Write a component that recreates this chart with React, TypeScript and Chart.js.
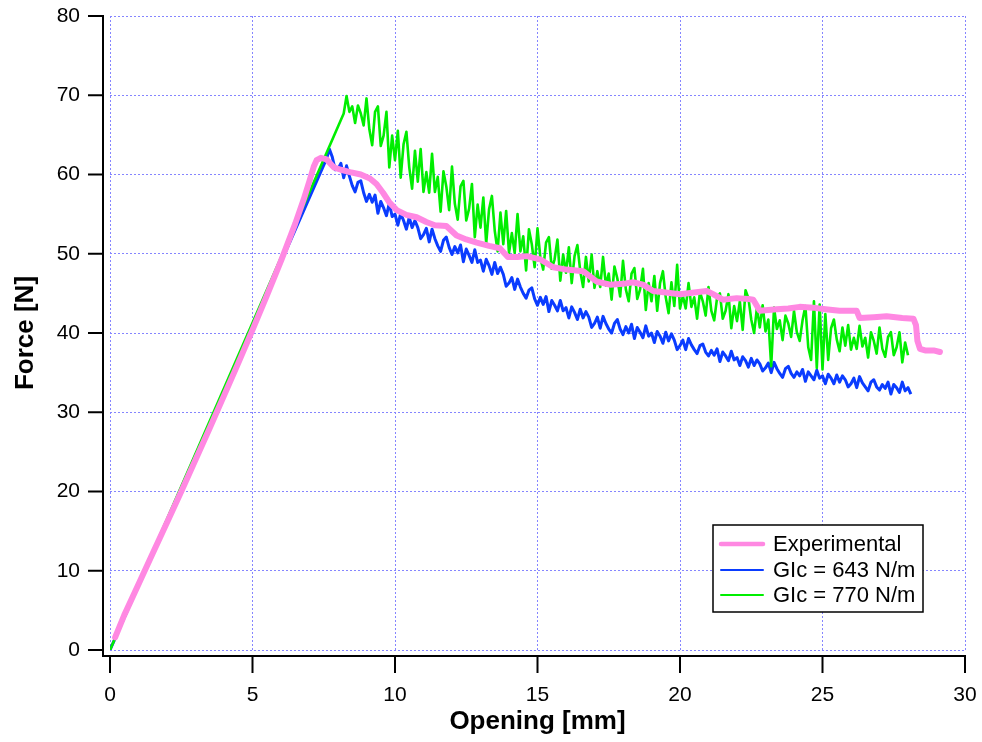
import React, { useEffect, useRef } from "react";
import { Chart, registerables } from "chart.js";

Chart.register(...registerables);

// ---------- data ----------
const xTicks = [0, 5, 10, 15, 20, 25, 30];
const yTicks = [0, 10, 20, 30, 40, 50, 60, 70, 80];

const seriesLabels = ["Experimental", "GIc = 643 N/m", "GIc = 770 N/m"];

// Experimental (smooth) curve
const expX = [0.18, 0.5, 1, 1.5, 2, 2.5, 3, 3.5, 4, 4.5, 5, 5.5, 6, 6.5, 6.8, 7.0, 7.15, 7.25, 7.4, 7.6, 7.85, 8.1, 8.42, 8.8, 9.12, 9.35, 9.58, 9.8, 10.06, 10.4, 10.76, 11.1, 11.4, 11.8, 12.16, 12.5, 12.87, 13.3, 13.68, 13.96, 14.3, 14.62, 15.09, 15.55, 16.02, 16.6, 17.07, 17.54, 18.0, 18.35, 18.7, 19.06, 19.5, 20.0, 20.5, 20.94, 21.16, 21.5, 21.99, 22.4, 22.57, 22.8, 23.39, 23.8, 24.2, 24.67, 25.1, 25.6, 26.2, 26.3, 26.8, 27.25, 27.8, 28.19, 28.28, 28.33, 28.42, 28.6, 28.9, 29.12];
const expY = [1.6, 4.4, 8.3, 12.2, 16.1, 20.0, 24.0, 28.0, 32.1, 36.2, 40.4, 44.7, 49.1, 53.8, 56.9, 59.2, 61.0, 61.8, 62.1, 61.9, 60.9, 60.6, 60.3, 60.0, 59.5, 58.8, 57.7, 56.5, 55.5, 54.9, 54.6, 54.0, 53.6, 53.5, 52.3, 51.8, 51.4, 51.0, 50.7, 49.6, 49.6, 49.7, 49.3, 48.3, 48.0, 47.8, 46.5, 46.1, 46.2, 46.4, 46.1, 45.3, 45.1, 44.9, 45.1, 45.3, 44.9, 44.2, 44.4, 44.3, 44.2, 42.8, 43.0, 43.1, 43.3, 43.2, 43.0, 42.8, 42.8, 41.9, 42.0, 42.1, 41.9, 41.8, 41.0, 39.0, 38.0, 37.8, 37.8, 37.6];

// Simulation GIc = 643 N/m : linear loading, then sampled every 0.1 mm from 7.7 mm
const blueRiseX = [0, 7.6];
const blueRiseY = [0, 62.0];
const blueStart = 7.7;
const blueStep = 0.1;
const blueY = [
  63.2, 62.2, 60.6, 60.7, 61.4, 59.6, 61.1, 59.8, 58.6, 57.8,
  59.0, 59.2, 57.7, 56.6, 57.5, 56.5, 57.4, 55.1, 56.6, 55.8,
  54.8, 56.4, 54.7, 55.0, 53.6, 55.1, 54.2, 53.1, 54.6, 53.3,
  54.2, 53.3, 51.9, 52.4, 53.2, 51.5, 53.1, 51.9, 51.0, 50.3,
  51.7, 52.1, 50.8, 49.9, 50.9, 50.1, 51.1, 49.0, 50.6, 49.8,
  48.9, 50.5, 48.9, 49.2, 47.8, 49.3, 48.5, 47.4, 48.9, 47.5,
  48.3, 47.4, 45.9, 46.3, 47.0, 45.5, 46.8, 45.8, 45.0, 44.4,
  45.4, 45.7, 44.3, 43.5, 44.5, 43.6, 44.6, 42.7, 44.1, 43.5,
  42.8, 44.1, 42.8, 43.2, 41.9, 43.3, 42.6, 41.7, 43.0, 41.9,
  42.7, 42.0, 40.7, 41.2, 42.0, 40.6, 42.1, 41.2, 40.5, 40.0,
  41.2, 41.7, 40.5, 39.8, 40.8, 40.0, 41.1, 39.3, 40.7, 40.1,
  39.4, 40.9, 39.6, 40.0, 38.8, 40.2, 39.6, 38.7, 40.1, 39.0,
  39.9, 39.1, 37.9, 38.4, 39.1, 37.9, 39.3, 38.5, 37.9, 37.4,
  38.4, 38.6, 37.6, 37.1, 37.8, 37.2, 38.0, 36.4, 37.6, 37.1,
  36.5, 37.7, 36.6, 36.9, 35.9, 37.0, 36.5, 35.7, 36.8, 35.9,
  36.6, 36.1, 35.2, 35.6, 36.2, 35.0, 36.3, 35.5, 34.9, 34.4,
  35.5, 35.8, 34.9, 34.4, 35.1, 34.6, 35.4, 33.9, 35.1, 34.6,
  34.1, 35.3, 34.3, 34.6, 33.6, 34.8, 34.3, 33.6, 34.7, 33.8,
  34.6, 34.1, 33.2, 33.6, 34.3, 33.1, 34.5, 33.7, 33.2, 32.7,
  33.8, 34.1, 33.2, 32.8, 33.5, 33.0, 33.8, 32.3, 33.5, 33.1,
  32.5, 33.8, 32.7, 33.1, 32.3,
];

// Simulation GIc = 770 N/m : linear loading, then sampled every 0.1 mm from 8.3 mm
const greenRiseX = [0, 8.2];
const greenRiseY = [0, 67.7];
const greenStart = 8.3;
const greenStep = 0.1;
const greenY = [
  69.9, 67.9, 68.6, 66.5, 68.7, 67.7, 66.2, 69.6, 65.7, 63.7,
  67.9, 68.6, 63.6, 64.9, 67.9, 60.9, 64.9, 61.8, 65.5, 59.6,
  63.8, 65.4, 60.9, 58.2, 63.0, 59.1, 63.2, 57.8, 60.3, 57.7,
  62.6, 57.8, 59.7, 55.3, 60.4, 58.5, 55.5, 61.0, 56.3, 54.3,
  58.5, 59.2, 54.2, 55.7, 58.8, 52.1, 56.2, 53.3, 57.1, 51.3,
  55.6, 57.3, 52.9, 50.3, 55.2, 51.2, 55.4, 50.1, 52.6, 50.1,
  55.0, 50.3, 52.2, 47.9, 53.1, 51.2, 48.3, 53.2, 49.5, 48.0,
  51.4, 52.1, 48.1, 49.3, 51.8, 46.6, 49.9, 47.6, 50.8, 46.3,
  49.7, 51.1, 47.8, 45.8, 49.6, 46.5, 49.9, 45.7, 47.8, 45.8,
  49.6, 46.0, 47.5, 44.2, 48.4, 46.9, 44.6, 49.1, 45.5, 44.0,
  47.5, 48.2, 44.3, 45.5, 48.1, 42.9, 46.3, 44.0, 47.2, 42.8,
  46.3, 47.8, 44.5, 42.5, 46.4, 43.4, 48.6, 43.1, 44.7, 43.1,
  46.3, 43.3, 44.5, 41.8, 45.2, 44.0, 42.2, 45.8, 42.8, 41.6,
  44.4, 45.0, 41.8, 42.8, 44.9, 40.6, 43.4, 41.5, 44.0, 40.4,
  45.4, 44.4, 41.7, 40.0, 43.2, 40.7, 43.5, 40.2, 41.7, 35.8,
  43.2, 40.5, 41.6, 39.1, 42.2, 41.2, 39.5, 42.8, 40.1, 39.0,
  41.6, 43.4, 38.2, 36.6, 44.0, 35.6, 43.6, 35.4, 42.4, 36.6,
  40.6, 41.7, 39.2, 37.7, 40.7, 38.4, 41.0, 37.9, 39.4, 38.0,
  40.9, 38.3, 39.4, 36.9, 40.1, 39.0, 37.4, 40.7, 38.0, 37.0,
  39.5, 40.1, 37.2, 38.2, 40.1, 36.3, 38.8, 37.2,
];

const colors = {
  exp: "#ff88e2",
  blue: "#0a3cff",
  green: "#00ee00",
  grid: "#8585ff",
};

function sampled(start: number, step: number, ys: number[]) {
  return ys.map((y, i) => ({ x: Math.round((start + i * step) * 100) / 100, y }));
}
function pairs(xs: number[], ys: number[]) {
  return xs.map((x, i) => ({ x, y: ys[i] }));
}

const FONT = "'Liberation Sans', Arial, Helvetica, sans-serif";

const axesPlugin = {
  id: "igorAxes",
  afterDraw(chart: any) {
    const ctx = chart.ctx;
    const xs = chart.scales.x;
    const ys = chart.scales.y;
    const ca = chart.chartArea;
    const axisX = ca.left - 7;
    const axisY = ca.bottom + 6;
    ctx.save();
    ctx.strokeStyle = "#000";
    ctx.lineWidth = 2;
    ctx.lineCap = "butt";
    // y axis line
    ctx.beginPath();
    ctx.moveTo(axisX, ys.getPixelForValue(80) - 1);
    ctx.lineTo(axisX, axisY + 1);
    ctx.stroke();
    // x axis line
    ctx.beginPath();
    ctx.moveTo(axisX - 1, axisY);
    ctx.lineTo(xs.getPixelForValue(30) + 1, axisY);
    ctx.stroke();
    // y ticks
    yTicks.forEach((v) => {
      const p = ys.getPixelForValue(v);
      ctx.beginPath();
      ctx.moveTo(axisX - 15, p);
      ctx.lineTo(axisX, p);
      ctx.stroke();
    });
    // x ticks
    xTicks.forEach((v) => {
      const p = xs.getPixelForValue(v);
      ctx.beginPath();
      ctx.moveTo(p, axisY);
      ctx.lineTo(p, axisY + 17);
      ctx.stroke();
    });

    // legend
    const bx = 713, by = 525, bw = 210, bh = 87;
    ctx.fillStyle = "#fff";
    ctx.fillRect(bx, by, bw, bh);
    ctx.lineWidth = 1.5;
    ctx.strokeRect(bx, by, bw, bh);
    const entries = [
      { label: seriesLabels[0], color: colors.exp, w: 4.5, y: 544 },
      { label: seriesLabels[1], color: colors.blue, w: 2, y: 570 },
      { label: seriesLabels[2], color: colors.green, w: 2, y: 595 },
    ];
    ctx.font = `22px ${FONT}`;
    ctx.textBaseline = "middle";
    ctx.textAlign = "left";
    entries.forEach((e) => {
      ctx.strokeStyle = e.color;
      ctx.lineWidth = e.w;
      ctx.lineCap = "round";
      ctx.beginPath();
      ctx.moveTo(721, e.y);
      ctx.lineTo(763, e.y);
      ctx.stroke();
      ctx.fillStyle = "#000";
      ctx.fillText(e.label, 773, e.y + 1);
    });
    ctx.restore();
  },
};

export default function App() {
  const ref = useRef<HTMLCanvasElement | null>(null);
  useEffect(() => {
    if (!ref.current) return;
    const chart = new Chart(ref.current, {
      type: "line",
      data: {
        datasets: [
          {
            label: seriesLabels[0],
            data: pairs(expX, expY),
            borderColor: colors.exp,
            borderWidth: 6,
            pointRadius: 0,
            borderJoinStyle: "round",
            borderCapStyle: "round",
            order: 0,
          },
          {
            label: seriesLabels[2],
            data: [...pairs(greenRiseX, greenRiseY), ...sampled(greenStart, greenStep, greenY)],
            borderColor: colors.green,
            borderWidth: 2.6,
            pointRadius: 0,
            borderJoinStyle: "round",
            order: 1,
          },
          {
            label: seriesLabels[1],
            data: [...pairs(blueRiseX, blueRiseY), ...sampled(blueStart, blueStep, blueY)],
            borderColor: colors.blue,
            borderWidth: 3,
            pointRadius: 0,
            borderJoinStyle: "round",
            order: 2,
          },
        ],
      },
      options: {
        animation: false,
        responsive: false,
        layout: { padding: { left: 0, right: 17, top: 16, bottom: 0 } },
        plugins: {
          legend: { display: false },
          tooltip: { enabled: false },
        },
        scales: {
          x: {
            type: "linear",
            min: 0,
            max: 30,
            afterFit: (s: any) => {
              s.height = 92;
              s.paddingLeft = 0;
              s.paddingRight = 0;
            },
            afterBuildTicks: (s: any) => {
              s.ticks = xTicks.map((v) => ({ value: v }));
            },
            ticks: {
              color: "#000",
              font: { family: FONT, size: 21 },
              padding: 33,
              maxRotation: 0,
            },
            grid: { color: colors.grid, lineWidth: 1, drawTicks: false },
            border: { display: false, dash: [2, 2] },
            title: {
              display: true,
              text: "Opening [mm]",
              color: "#000",
              font: { family: FONT, size: 26, weight: "bold" },
              padding: { top: 0, bottom: 5 },
            },
          },
          y: {
            type: "linear",
            min: 0,
            max: 80,
            afterFit: (s: any) => {
              s.width = 110;
              s.paddingTop = 0;
              s.paddingBottom = 0;
            },
            afterBuildTicks: (s: any) => {
              s.ticks = yTicks.map((v) => ({ value: v }));
            },
            ticks: {
              color: "#000",
              font: { family: FONT, size: 21 },
              padding: 30,
            },
            grid: { color: colors.grid, lineWidth: 1, drawTicks: false },
            border: { display: false, dash: [2, 2] },
            title: {
              display: true,
              text: "Force [N]",
              color: "#000",
              font: { family: FONT, size: 26, weight: "bold" },
              padding: { top: 10, bottom: 0 },
            },
          },
        },
      },
      plugins: [axesPlugin],
    });
    return () => chart.destroy();
  }, []);
  return (
    <div style={{ position: "fixed", left: 0, top: 0, width: 982, height: 742, background: "#fff" }}>
      <canvas ref={ref} width={982} height={742} style={{ width: 982, height: 742, display: "block" }} />
    </div>
  );
}
